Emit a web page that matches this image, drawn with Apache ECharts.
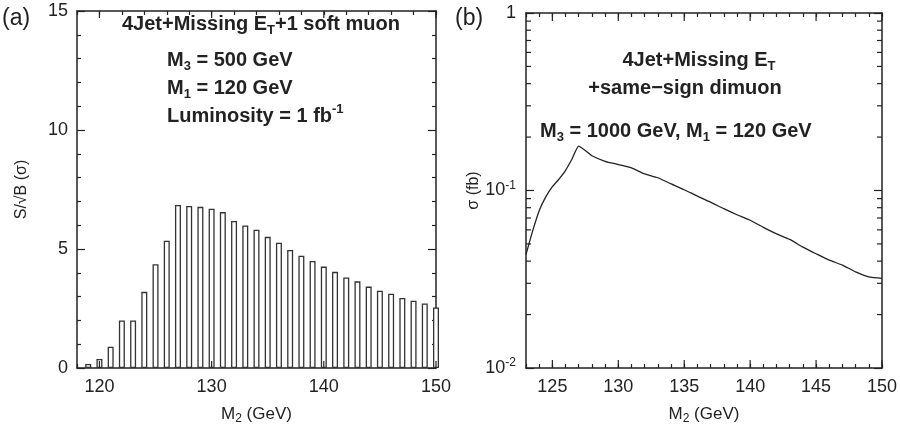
<!DOCTYPE html>
<html><head><meta charset="utf-8">
<script src="https://cdn.jsdelivr.net/npm/echarts@6/dist/echarts.min.js"></script>
<style>html,body{margin:0;padding:0;background:#fff}#c{width:900px;height:435px}</style>
</head><body><div id="c"></div>
<script>
// ---- data: panel (a) histogram of S/sqrt(B) vs M2 (1 GeV bins) ----
const barMass = [119,120,121,122,123,124,125,126,127,128,129,130,131,132,133,134,
                 135,136,137,138,139,140,141,142,143,144,145,146,147,148,149,150];
const barSignif = [0.17,0.38,0.89,2.0,2.0,3.2,4.36,5.35,6.85,6.81,6.77,6.69,6.55,6.18,5.99,5.81,
                   5.51,5.26,4.96,4.72,4.5,4.26,4.04,3.8,3.64,3.42,3.25,3.12,2.94,2.83,2.71,2.54];
// ---- data: panel (b) cross section vs M2 ----
const curveMass = [123,123.5,124,124.5,125,125.5,126,126.5,127,127.5,128,129,130,131,132,133,134,135,
                   136,137,138,139,140,141,142,143,144,145,146,147,148,149,150];
const curveSigma = [0.0435,0.059,0.077,0.092,0.105,0.116,0.130,0.151,0.178,0.168,0.157,0.146,0.140,0.134,
                    0.124,0.118,0.109,0.101,0.093,0.086,0.079,0.073,0.068,0.062,0.057,0.053,0.048,0.044,
                    0.0405,0.038,0.0348,0.0326,0.032];
// ---- tick values ----
const aMajorXTicks = [120,130,140,150];
const bMajorXTicks = [125,130,135,140,145,150];
const bMinorYTicks = [0.02,0.03,0.04,0.05,0.06,0.07,0.08,0.09,0.2,0.3,0.4,0.5,0.6,0.7,0.8,0.9];

const A_XMIN = 118, A_XMAX = 150, A_YMIN = 0, A_YMAX = 15;
const B_XMIN = 123, B_XMAX = 150, B_YMIN = 0.01, B_YMAX = 1;

const INK = '#222';
const FONT = 'Liberation Sans, Arial, sans-serif';
const lineStyle = {color: INK, width: 1.5};

function xAxisCfg(grid, min, max, interval, showLabels, pos, labelEvery) {
  return {
    type: 'value', gridIndex: grid, position: pos, min: min, max: max, interval: interval,
    axisLine: {show: true, onZero: false, lineStyle: lineStyle},
    axisTick: {show: true, inside: true, length: 4, lineStyle: {color: INK, width: 1.2}},
    axisLabel: {show: showLabels, margin: 10, color: INK, fontFamily: FONT, fontSize: 18,
      formatter: v => (Math.abs(v % labelEvery) < 1e-6 ? String(v) : '')},
    splitLine: {show: false},
    name: showLabels ? 'M{sub|2} (GeV)' : '', nameLocation: 'middle', nameGap: 35,
    nameTextStyle: {color: INK, fontFamily: FONT, fontSize: 17, lineHeight: 22,
      rich: {sub: {fontSize: 12, lineHeight: 12, verticalAlign: 'bottom', fontFamily: FONT, color: INK}}}
  };
}

function tickSeries(xi, yi, vals, dir, len, xr, yr) {
  return {
    type: 'custom', xAxisIndex: xi, yAxisIndex: yi, silent: true, clip: false, z: 10,
    data: vals.map(v => dir === 'x' ? [v, yr[0]] : [xr[0], v]),
    renderItem: function (params, api) {
      const v = dir === 'x' ? api.value(0) : api.value(1);
      let p1, p2, s1, s2;
      if (dir === 'x') {
        p1 = api.coord([v, yr[0]]); p2 = api.coord([v, yr[1]]);
        s1 = [p1[0], p1[1] - len]; s2 = [p2[0], p2[1] + len];
      } else {
        p1 = api.coord([xr[0], v]); p2 = api.coord([xr[1], v]);
        s1 = [p1[0] + len, p1[1]]; s2 = [p2[0] - len, p2[1]];
      }
      const st = {stroke: INK, lineWidth: 1.2};
      return {type: 'group', children: [
        {type: 'line', shape: {x1: p1[0], y1: p1[1], x2: s1[0], y2: s1[1]}, style: st},
        {type: 'line', shape: {x1: p2[0], y1: p2[1], x2: s2[0], y2: s2[1]}, style: st}
      ]};
    }
  };
}

const subRich = {fontSize: 13, lineHeight: 13, verticalAlign: 'bottom', fontFamily: FONT, fontWeight: 'bold', fill: INK};
const supRich = {fontSize: 13, lineHeight: 13, verticalAlign: 'top', fontFamily: FONT, fontWeight: 'bold', fill: INK};
function note(x, y, text, align) {
  return {type: 'text', x: x, y: y, z: 20, silent: true,
    style: {text: text, align: align || 'left', verticalAlign: 'middle', fill: INK,
      font: 'bold 20px ' + FONT, lineHeight: 26,
      rich: {sub: subRich, sup: supRich}}};
}

const chart = echarts.init(document.getElementById('c'), null, {renderer: 'canvas'});
chart.setOption({
  animation: false,
  backgroundColor: '#fff',
  grid: [
    {left: 77, top: 11, width: 359, height: 357, containLabel: false, outerBoundsMode: 'none'},
    {left: 526, top: 13, width: 356, height: 355, containLabel: false, outerBoundsMode: 'none'}
  ],
  xAxis: [
    xAxisCfg(0, A_XMIN, A_XMAX, 2, true, 'bottom', 10),
    xAxisCfg(0, A_XMIN, A_XMAX, 2, false, 'top', 10),
    xAxisCfg(1, B_XMIN, B_XMAX, 1, true, 'bottom', 5),
    xAxisCfg(1, B_XMIN, B_XMAX, 1, false, 'top', 5)
  ],
  yAxis: [
    {type: 'value', gridIndex: 0, position: 'left', min: A_YMIN, max: A_YMAX, interval: 5,
     axisLine: {show: true, onZero: false, lineStyle: lineStyle},
     axisTick: {show: true, inside: true, length: 8, lineStyle: {color: INK, width: 1.2}},
     minorTick: {show: true, splitNumber: 5, length: 4, lineStyle: {color: INK, width: 1.2}},
     axisLabel: {margin: 9, color: INK, fontFamily: FONT, fontSize: 18},
     splitLine: {show: false},
     name: 'S/\u221AB (\u03C3)', nameLocation: 'middle', nameGap: 47,
     nameTextStyle: {color: INK, fontFamily: FONT, fontSize: 16}},
    {type: 'value', gridIndex: 0, position: 'right', min: A_YMIN, max: A_YMAX, interval: 5,
     axisLine: {show: true, onZero: false, lineStyle: lineStyle},
     axisTick: {show: true, inside: true, length: 8, lineStyle: {color: INK, width: 1.2}},
     minorTick: {show: true, splitNumber: 5, length: 4, lineStyle: {color: INK, width: 1.2}},
     axisLabel: {show: false}, splitLine: {show: false}},
    {type: 'log', logBase: 10, gridIndex: 1, position: 'left', min: B_YMIN, max: B_YMAX,
     axisLine: {show: true, onZero: false, lineStyle: lineStyle},
     axisTick: {show: true, inside: true, length: 8, lineStyle: {color: INK, width: 1.2}},
     axisLabel: {margin: 10, color: INK, fontFamily: FONT, fontSize: 18,
       formatter: v => { const e = Math.round(Math.log10(v)); return e === 0 ? '{b|1}' : '{b|10}{s|' + e + '}'; },
       rich: {b: {fontSize: 18, lineHeight: 22, fontFamily: FONT, color: INK},
              s: {fontSize: 12, lineHeight: 12, verticalAlign: 'top', fontFamily: FONT, color: INK}}},
     splitLine: {show: false},
     name: '\u03C3 (fb)', nameLocation: 'middle', nameGap: 40,
     nameTextStyle: {color: INK, fontFamily: FONT, fontSize: 16}},
    {type: 'log', logBase: 10, gridIndex: 1, position: 'right', min: B_YMIN, max: B_YMAX,
     axisLine: {show: true, onZero: false, lineStyle: lineStyle},
     axisTick: {show: true, inside: true, length: 8, lineStyle: {color: INK, width: 1.2}},
     axisLabel: {show: false}, splitLine: {show: false}}
  ],
  series: [
    {type: 'bar', xAxisIndex: 0, yAxisIndex: 0, barWidth: 6,
     data: barMass.map((m, i) => [m, barSignif[i]]),
     itemStyle: {color: '#fff', borderColor: '#333', borderWidth: 1.3}},
    {type: 'line', xAxisIndex: 2, yAxisIndex: 2, showSymbol: false, smooth: 0.2,
     data: curveMass.map((m, i) => [m, curveSigma[i]]),
     lineStyle: {color: INK, width: 1.3}},
    tickSeries(0, 0, aMajorXTicks, 'x', 7, [A_XMIN, A_XMAX], [A_YMIN, A_YMAX]),
    tickSeries(2, 2, bMajorXTicks, 'x', 8, [B_XMIN, B_XMAX], [B_YMIN, B_YMAX]),
    tickSeries(2, 2, bMinorYTicks, 'y', 5, [B_XMIN, B_XMAX], [B_YMIN, B_YMAX])
  ],
  graphic: [
    {type: 'text', x: 2, y: 19, silent: true,
     style: {text: '(a)', font: '23px ' + FONT, fill: INK, verticalAlign: 'middle'}},
    {type: 'text', x: 455, y: 19, silent: true,
     style: {text: '(b)', font: '23px ' + FONT, fill: INK, verticalAlign: 'middle'}},
    note(122, 24, '4Jet+Missing E{sub|T}+1 soft muon'),
    note(167, 60, 'M{sub|3} = 500 GeV'),
    note(167, 88, 'M{sub|1} = 120 GeV'),
    note(167, 116, 'Luminosity = 1 fb{sup|-1}'),
    note(699, 60, '4Jet+Missing E{sub|T}', 'center'),
    note(685, 88, '+same\u2212sign dimuon', 'center'),
    note(540, 131, 'M{sub|3} = 1000 GeV, M{sub|1} = 120 GeV')
  ]
});
</script>
</body></html>
